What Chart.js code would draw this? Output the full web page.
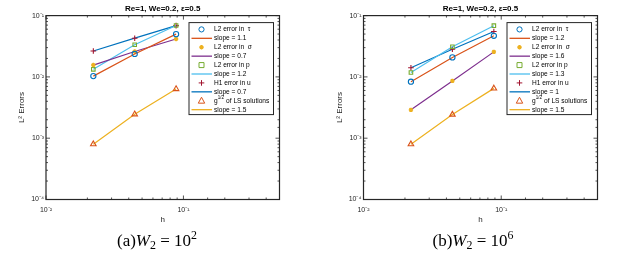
<!DOCTYPE html>
<html>
<head>
<meta charset="utf-8">
<script src="https://cdn.jsdelivr.net/npm/chart.js@4.4.1/dist/chart.umd.min.js"></script>
<style>
  body { margin: 0; background: #fff; width: 625px; height: 257px; overflow: hidden; position: relative; }
  .plot { position: absolute; top: 0; height: 230px; }
  .cap { position: absolute; top: 230px; width: 200px; text-align: center; line-height: 1;
         font-family: "Liberation Serif", "DejaVu Serif", serif; font-size: 17px; color: #000; }
  .cap sub { font-size: 0.7em; vertical-align: -0.25em; }
  .cap sup { font-size: 0.7em; vertical-align: 0.55em; }
</style>
</head>
<body>
<div class="plot" style="left:0;width:312px"><canvas id="c1"></canvas></div>
<div class="plot" style="left:312px;width:313px"><canvas id="c2"></canvas></div>
<div class="cap" style="left:57px">(a)<i>W</i><sub>2</sub> = 10<sup>2</sup></div>
<div class="cap" style="left:373px">(b)<i>W</i><sub>2</sub> = 10<sup>6</sup></div>

<script>
// mesh sizes
const hValues = [0.0221, 0.0442, 0.0884];

// (a) W2 = 1e2
const tauA = [0.0103, 0.0237, 0.0498];
const sigmaA = [0.0156, 0.026, 0.0415];
const pA = [0.0133, 0.0334, 0.0690];
const uA = [0.0265, 0.0428, 0.0685];
const gA = [0.00080, 0.00246, 0.00635];
const slopesA = ['1.1', '0.7', '1.2', '0.7', '1.5'];

// (b) W2 = 1e6
const tauB = [0.00835, 0.0208, 0.0468];
const sigmaB = [0.00290, 0.00860, 0.0256];
const pB = [0.0118, 0.0311, 0.0685];
const uB = [0.0141, 0.0282, 0.0550];
const gB = [0.00080, 0.00243, 0.00650];
const slopesB = ['1.2', '1.6', '1.3', '1', '1.5'];

const seriesNames = ['L2 error in  \u03c4', 'L2 error in  \u03c3', 'L2 error in p', 'H1 error in u', 'g^{1/2} of LS solutions'];
const markerStyles = ['circle', 'star', 'rect', 'cross', 'triangle'];
const markerColors = ['#0072BD', '#EDB120', '#77AC30', '#A2142F', '#D95319'];
const lineColors = ['#D95319', '#7E2F8E', '#4DBEEE', '#0072BD', '#EDB120'];
const markerSizes = [2.6, 2.2, 2.5, 2.8, 3.2];

const supMap = { '-': '\u207b', '0': '\u2070', '1': '\u00b9', '2': '\u00b2', '3': '\u00b3', '4': '\u2074' };
function isPow10(v) {
  const l = Math.log10(v);
  return Math.abs(l - Math.round(l)) < 1e-6;
}
function powLabel(v) {
  if (!isPow10(v)) return '';
  const e = String(Math.round(Math.log10(v)));
  return '10' + e.split('').map(c => supMap[c]).join('');
}

function drawMarker(ctx, style, x, y, r, color) {
  ctx.save();
  ctx.strokeStyle = color;
  ctx.fillStyle = color;
  ctx.lineWidth = 1;
  ctx.beginPath();
  if (style === 'circle') {
    ctx.arc(x, y, r, 0, Math.PI * 2);
    ctx.stroke();
  } else if (style === 'rect') {
    ctx.rect(x - r, y - r, 2 * r, 2 * r);
    ctx.stroke();
  } else if (style === 'triangle') {
    ctx.moveTo(x, y - r * 1.1);
    ctx.lineTo(x + r, y + r * 0.75);
    ctx.lineTo(x - r, y + r * 0.75);
    ctx.closePath();
    ctx.stroke();
  } else if (style === 'cross') {
    ctx.moveTo(x - r, y); ctx.lineTo(x + r, y);
    ctx.moveTo(x, y - r); ctx.lineTo(x, y + r);
    ctx.stroke();
  } else {
    ctx.lineWidth = 1.3;
    for (let k = 0; k < 4; k++) {
      const a = k * Math.PI / 4;
      ctx.moveTo(x - r * Math.cos(a), y - r * Math.sin(a));
      ctx.lineTo(x + r * Math.cos(a), y + r * Math.sin(a));
    }
    ctx.stroke();
  }
  ctx.restore();
}

// box, inward ticks on all four sides, and the matlab style legend
const axesBoxPlugin = {
  id: 'axesBox',
  afterDatasetsDraw(chart) {
    const ctx = chart.ctx;
    const a = chart.chartArea;
    ctx.save();
    ctx.strokeStyle = '#262626';
    ctx.lineWidth = 0.8;
    ctx.beginPath();
    for (const t of chart.scales.x.ticks) {
      const px = chart.scales.x.getPixelForValue(t.value);
      if (px < a.left - 0.5 || px > a.right + 0.5) continue;
      const len = isPow10(t.value) ? 4 : 2;
      ctx.moveTo(px, a.bottom); ctx.lineTo(px, a.bottom - len);
      ctx.moveTo(px, a.top); ctx.lineTo(px, a.top + len);
    }
    for (const t of chart.scales.y.ticks) {
      const py = chart.scales.y.getPixelForValue(t.value);
      if (py < a.top - 0.5 || py > a.bottom + 0.5) continue;
      const len = isPow10(t.value) ? 4 : 2;
      ctx.moveTo(a.left, py); ctx.lineTo(a.left + len, py);
      ctx.moveTo(a.right, py); ctx.lineTo(a.right - len, py);
    }
    ctx.stroke();
    ctx.lineWidth = 1.2;
    ctx.strokeRect(a.left, a.top, a.right - a.left, a.bottom - a.top);

    // legend
    const bw = 84.5, bh = 92;
    const bx = a.right - 6 - bw, by = a.top + 7;
    ctx.fillStyle = '#fff';
    ctx.fillRect(bx, by, bw, bh);
    ctx.lineWidth = 1;
    ctx.strokeRect(bx, by, bw, bh);
    ctx.textBaseline = 'middle';
    chart.data.datasets.forEach((ds, i) => {
      const yy = by + 6.8 + i * 8.92;
      if (ds.showLine === false) {
        drawMarker(ctx, ds.pointStyle, bx + 12.5, yy, ds.pointRadius, ds.borderColor);
      } else {
        ctx.strokeStyle = ds.borderColor;
        ctx.lineWidth = 1.3;
        ctx.beginPath();
        ctx.moveTo(bx + 2.5, yy); ctx.lineTo(bx + 23, yy);
        ctx.stroke();
      }
      ctx.fillStyle = '#000';
      let x = bx + 25;
      const parts = ds.label.split(/\^\{([^}]*)\}/);
      parts.forEach((p, k) => {
        if (k % 2 === 1) {
          ctx.font = '4.5px "Liberation Sans", Arial, sans-serif';
          ctx.fillText(p, x, yy - 2.8);
        } else {
          ctx.font = '6.6px "Liberation Sans", Arial, sans-serif';
          ctx.fillText(p, x, yy);
        }
        x += ctx.measureText(p).width + (k % 2 === 1 ? 0.3 : 0);
      });
    });
    ctx.restore();
  }
};

function makeChart(id, values, slopes, yWidth, rightPad) {
  const datasets = [];
  values.forEach((vals, i) => {
    const pts = hValues.map((h, k) => ({ x: h, y: vals[k] }));
    datasets.push({
      label: seriesNames[i],
      data: pts,
      showLine: false,
      pointStyle: markerStyles[i],
      pointRadius: markerSizes[i],
      pointBorderWidth: markerStyles[i] === 'star' ? 1.4 : 1.1,
      borderColor: markerColors[i],
      backgroundColor: 'rgba(0,0,0,0)'
    });
    datasets.push({
      label: 'slope = ' + slopes[i],
      data: pts,
      showLine: true,
      pointRadius: 0,
      borderColor: lineColors[i],
      borderWidth: 1.2,
      fill: false
    });
  });

  const tickFont = { family: '"Liberation Sans", Arial, sans-serif', size: 7 };
  return new Chart(document.getElementById(id), {
    type: 'scatter',
    data: { datasets: datasets },
    options: {
      responsive: true,
      maintainAspectRatio: false,
      animation: false,
      devicePixelRatio: 1,
      layout: { padding: { top: 0, right: rightPad, bottom: 0, left: 0 } },
      plugins: {
        legend: { display: false },
        tooltip: { enabled: false },
        title: {
          display: true,
          fullSize: false,
          text: 'Re=1, We=0.2, \u03b5=0.5',
          color: '#000',
          font: { family: '"Liberation Sans", Arial, sans-serif', size: 8, weight: 'bold' },
          padding: { top: 4, bottom: 2 }
        }
      },
      scales: {
        x: {
          type: 'logarithmic',
          min: 0.01,
          max: 0.5,
          grid: { display: false, drawTicks: false },
          border: { display: false },
          ticks: { autoSkip: false, maxRotation: 0, padding: 6, color: '#262626', font: tickFont, callback: v => powLabel(v) },
          title: { display: true, text: 'h', color: '#262626', font: { family: '"Liberation Sans", Arial, sans-serif', size: 8 }, padding: { top: 0, bottom: 5 } },
          afterFit: s => { s.height = 30.5; }
        },
        y: {
          type: 'logarithmic',
          min: 0.0001,
          max: 0.1,
          grid: { display: false, drawTicks: false },
          border: { display: false },
          ticks: { autoSkip: false, padding: 2, color: '#262626', font: tickFont, callback: v => powLabel(v) },
          title: { display: true, text: 'L\u00b2 Errors', color: '#262626', font: { family: '"Liberation Sans", Arial, sans-serif', size: 8 }, padding: { top: yWidth - 29, bottom: 0 } },
          afterFit: s => { s.width = yWidth; }
        }
      }
    },
    plugins: [axesBoxPlugin]
  });
}

makeChart('c1', [tauA, sigmaA, pA, uA, gA], slopesA, 46, 32.5);
makeChart('c2', [tauB, sigmaB, pB, uB, gB], slopesB, 51.5, 27.5);
</script>
</body>
</html>
